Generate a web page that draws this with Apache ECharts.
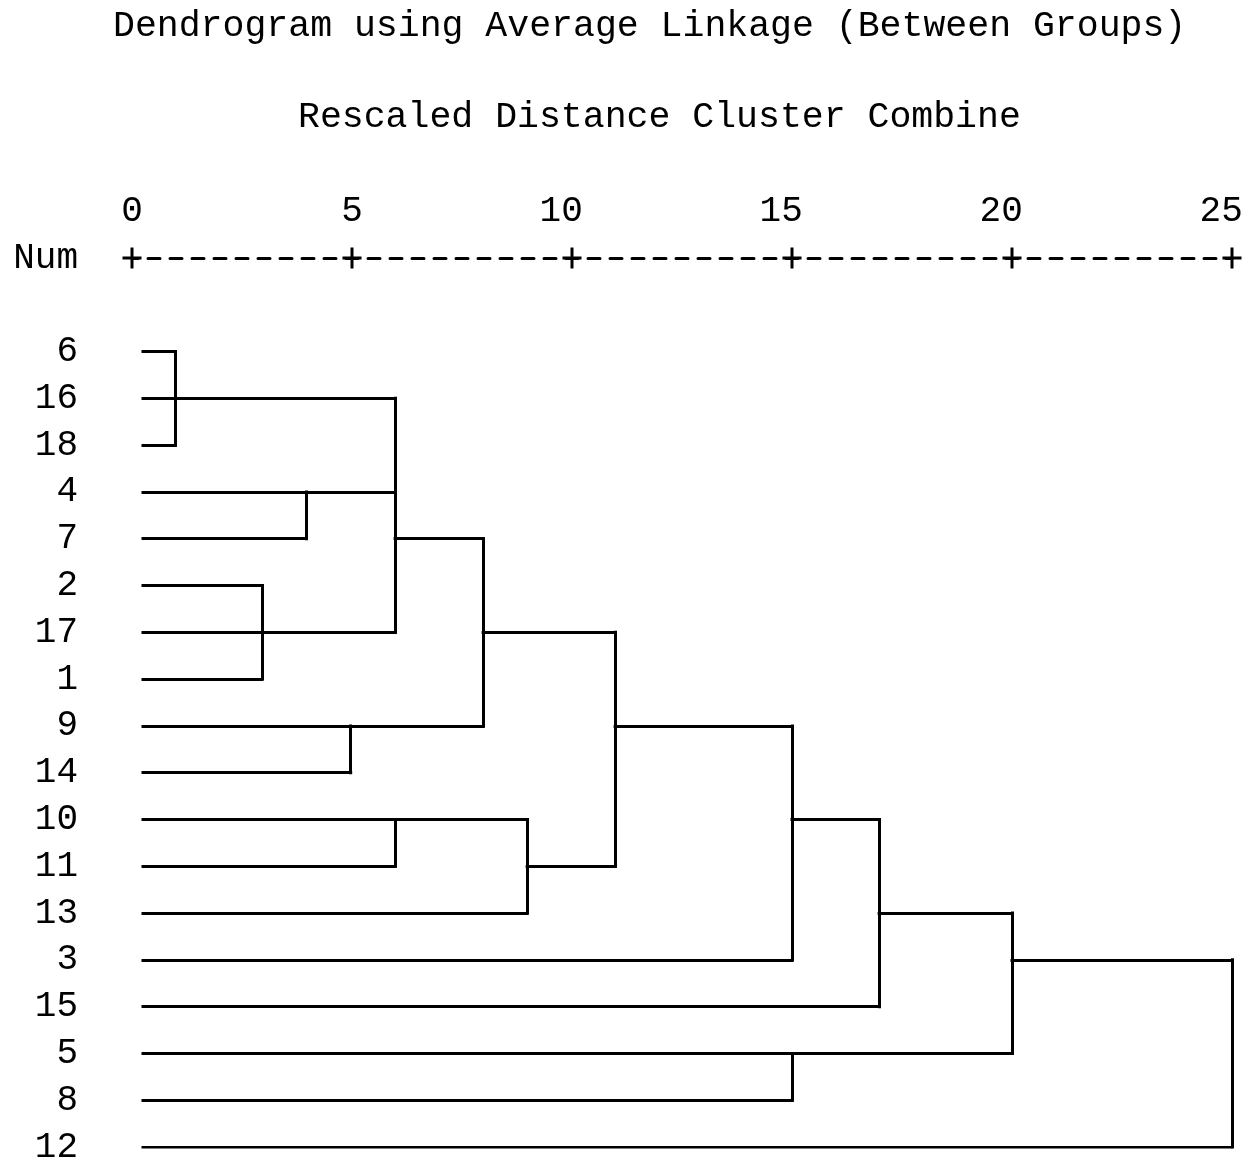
<!DOCTYPE html>
<html>
<head>
<meta charset="utf-8">
<script src="https://cdn.jsdelivr.net/npm/echarts@6/dist/echarts.min.js"></script>
<style>
html,body{margin:0;padding:0;background:#fff;}
#chart{width:1249px;height:1159px;}
</style>
</head>
<body>
<div id="chart"></div>
<script>
// ---- data ----
var titleText = 'Dendrogram using Average Linkage (Between Groups)';
var subtitleText = 'Rescaled Distance Cluster Combine';
var axisRowLabel = 'Num';
var leaves = ['6','16','18','4','7','2','17','1','9','14','10','11','13','3','15','5','8','12'];
var ticks = [0, 5, 10, 15, 20, 25];
var leafStart = 0.25;
// merges: children (leaf index 0..17 or 'm'+merge index), rescaled distance, row of the resulting cluster line
var mergeChildren = [
  [0, 1, 2],            // m0
  [3, 4],               // m1
  [5, 6, 7],            // m2
  ['m0', 'm1', 'm2'],   // m3
  [8, 9],               // m4
  ['m3', 'm4'],         // m5
  [10, 11],             // m6
  ['m6', 12],           // m7
  ['m5', 'm7'],         // m8
  ['m8', 13],           // m9
  ['m9', 14],           // m10
  [15, 16],             // m11
  ['m10', 'm11'],       // m12
  ['m12', 17]           // m13
];
var mergeHeights = [0.98, 3.95, 2.95, 5.98, 4.97, 7.98, 5.98, 8.98, 10.98, 15.0, 16.98, 15.0, 20.0, 25.0];
var mergeRows = [1, 3, 6, 4, 8, 6, 10, 11, 8, 10, 12, 15, 13, 13];

// ---- build segments from the tree ----
function nodeInfo(c) {
  if (typeof c === 'number') return { x: leafStart, row: c };
  var k = parseInt(c.slice(1), 10);
  return { x: mergeHeights[k], row: mergeRows[k] };
}
var segments = [];
mergeChildren.forEach(function (ch, k) {
  var h = mergeHeights[k];
  var rows = [];
  ch.forEach(function (c) {
    var n = nodeInfo(c);
    rows.push(n.row);
    segments.push({ coords: [[n.x, n.row], [h, n.row]] });
  });
  var r0 = Math.min.apply(null, rows), r1 = Math.max.apply(null, rows);
  segments.push({ coords: [[h, r0], [h, r1]] });
});

var FONT = "'Liberation Mono','Courier New',monospace";
var chart = echarts.init(document.getElementById('chart'), null, { renderer: 'canvas' });
chart.setOption({
  animation: false,
  backgroundColor: '#ffffff',
  title: [
    { text: titleText, left: 108, top: 3, textStyle: { fontFamily: FONT, fontSize: 36.5, fontWeight: 'normal', color: '#000' } },
    { text: subtitleText, left: 293, top: 94, textStyle: { fontFamily: FONT, fontSize: 36.5, fontWeight: 'normal', color: '#000' } }
  ],
  grid: { left: 132, right: 17, top: 258, bottom: 12, containLabel: false, outerBoundsMode: 'none' },
  xAxis: {
    type: 'value', position: 'top', min: 0, max: 25, interval: 5,
    axisLine: { show: true, onZero: false, lineStyle: { color: '#000', width: 3, type: [12, 10], dashOffset: 6 } },
    axisTick: { show: false },
    splitLine: { show: false },
    axisLabel: {
      show: true, margin: 29, color: '#000', fontFamily: FONT, fontSize: 36,
      showMinLabel: true, showMaxLabel: true,
      formatter: function (v) { var s = String(v); return s + new Array(s.length).join(' '); }
    }
  },
  yAxis: {
    type: 'value', inverse: true, min: -2, max: 17, interval: 1,
    axisLine: { show: false }, axisTick: { show: false }, splitLine: { show: false },
    axisLabel: {
      show: true, margin: 54, color: '#000', fontFamily: FONT, fontSize: 36,
      showMinLabel: true, showMaxLabel: true,
      formatter: function (v) {
        if (v === -2) return axisRowLabel;
        if (v >= 0 && v < leaves.length) return leaves[v];
        return '';
      }
    }
  },
  series: [
    {
      type: 'lines', coordinateSystem: 'cartesian2d', polyline: false, silent: true,
      lineStyle: { color: '#000', width: 3, opacity: 1, curveness: 0, cap: 'square' },
      data: segments
    },
    {
      type: 'scatter', silent: true,
      symbol: 'path://M8,0H11V9H19V12H11V21H8V12H0V9H8Z',
      symbolSize: [19, 21],
      itemStyle: { color: '#000', opacity: 1 },
      data: ticks.map(function (t) { return [t, -2]; })
    }
  ]
});
</script>
</body>
</html>
